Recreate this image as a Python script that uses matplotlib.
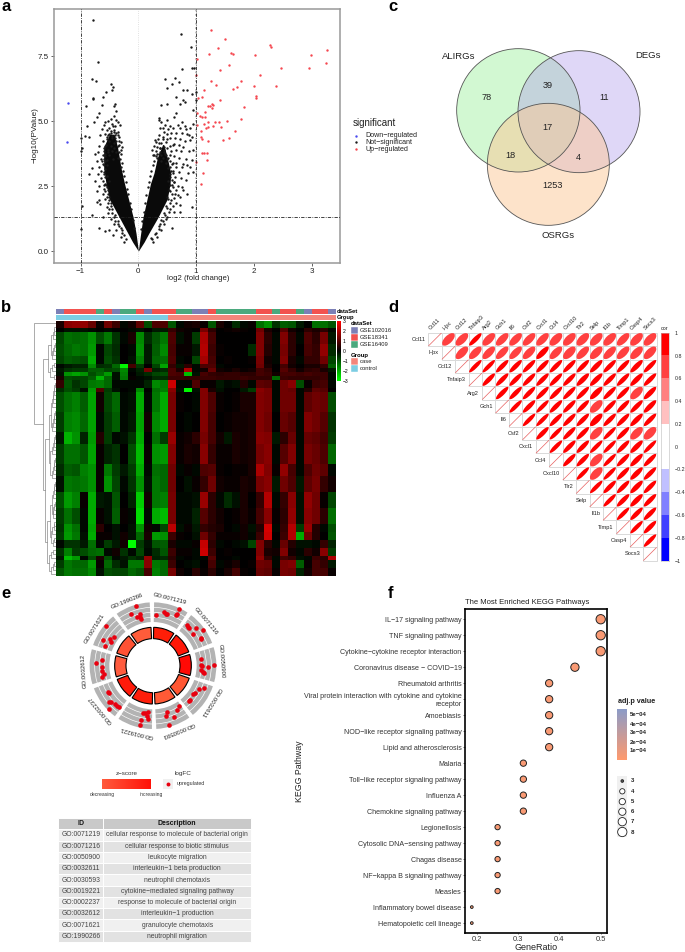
import matplotlib
matplotlib.use('Agg')
import matplotlib.pyplot as plt
import numpy as np
from matplotlib.colors import LinearSegmentedColormap, ListedColormap, BoundaryNorm
from matplotlib.patches import Circle, Ellipse, Rectangle, Wedge

plt.rcParams['font.family'] = ['Liberation Sans', 'DejaVu Sans']
plt.rcParams['axes.unicode_minus'] = True

W, H = 685, 952

# a: volcano
up_points = [(1.26,8.5),(1.5,8.15),(1.385,7.82),(1.22,7.6),(1.6,7.63),(1.645,7.58),(2.02,7.53),(2.285,7.95),(2.29,7.86),
    (2.99,7.55),(3.27,7.74),(3.25,7.23),(2.955,7.03),(2.47,7.05),(2.11,6.79),(1.02,7.38),(1.57,7.15),(1.41,6.99),(1.0,6.76),
    (1.25,6.56),(1.34,6.4),(1.78,6.54),(1.7,6.32),(1.64,6.24),(2.01,6.36),(2.39,6.37),(1.14,6.22),(2.04,5.96),(2.04,5.88),
    (1.41,5.82),(1.1,5.94),(1.04,5.91),(1.275,5.68),(1.3,5.64),(1.2,5.59),(1.24,5.58),(1.28,5.5),(1.15,5.35),(1.835,5.53),
    (1.01,5.31),(1.07,5.2),(1.1,5.15),(1.16,5.18),(1.77,5.1),(1.535,5.0),(1.21,4.96),(1.33,4.96),(1.39,4.96),(1.14,4.9),
    (1.02,4.86),(1.29,4.81),(1.21,4.79),(1.43,4.78),(1.17,4.73),(1.09,4.63),(1.67,4.64),(1.08,4.41),(1.11,4.32),(1.575,4.35),
    (1.46,4.27),(1.21,4.23),(1.1,3.76),(1.14,3.76),(1.18,3.77),(1.18,3.49),(1.0,3.41),(1.125,2.99),(1.09,2.6)]
down_points = [(-1.22,5.7),(-1.235,4.2)]
ns_points = [(-.79,8.88),(-.7,7.28),(-.81,6.63),(-.73,6.56),(-.48,6.45),(-.44,6.32),(-.46,6.19),(-.56,6.13),(-.62,5.94),
    (-.78,5.91),(-.78,5.85),(-.91,5.58),(-.63,5.62),(-.68,5.3),(-.4,5.68),(-.43,5.58),(-.39,5.4),(-.89,4.81),(-.77,4.97),
    (-.72,5.17),(-.93,4.42),(-.99,4.37),(-.85,4.4),(-.98,3.95),(-.99,3.86),(-.85,2.96),(-.81,3.18),(-.98,1.73),(-.81,1.38),
    (-1.0,.86),(-.72,1.9),(-.68,.87),(-.58,.78),(-.51,.81),(-.44,.63),(-.61,1.32),(-.66,1.83),
    (.73,8.37),(.91,7.87),(.92,7.05),(.96,7.05),(.76,7.0),(.46,6.62),(.63,6.65),(.49,6.26),(.59,6.45),(.71,6.5),(.77,6.22),
    (.84,6.19),(.92,6.06),(.99,6.13),(.66,5.94),(.77,5.8),(.72,5.68),(.81,5.74),(.99,5.8),(.39,5.62),(.49,5.68),(.94,5.45),
    (.66,5.3),(.61,5.17),(.36,5.14),(.49,5.06),(.75,4.97),(.81,4.81),(.94,4.91),(.43,4.72),(.55,4.81),(.66,4.53),(.87,4.46),
    (.89,4.27),(.95,3.88),(.78,4.01),(.61,4.14),(.43,4.33),(.29,4.27),(.375,3.95),(.89,3.24),(.94,3.05),(.78,3.37),(.66,3.24),
    (.75,2.47),(.84,2.2),(.92,1.68),(.72,1.77),(.72,1.5),(.58,.87),(.61,2.67),(.69,2.15),
    (-.42,5.2),(-.47,5.1),(-.38,5.05),(-.52,5.0),(-.57,4.95),(-.6,4.85),(-.45,4.9),(-.35,4.95),(-.32,4.85),(-.4,4.8),(-.5,4.75),
    (-.63,4.7),(-.55,4.65),(-.42,4.65),(-.36,4.6),(-.47,4.55),(-.58,4.5),(-.66,4.45),(-.52,4.45),(-.4,4.45),(-.33,4.4),(-.45,4.35),
    (-.55,4.3),(-.62,4.25),(-.5,4.25),(-.38,4.25),(-.3,4.2),(-.43,4.15),(-.56,4.1),(-.68,4.05),(-.48,4.05),(-.35,4.05),(-.28,4.0),
    (-.42,3.95),(-.53,3.9),(-.6,3.85),(-.7,3.8),(-.75,3.75),(-.46,3.85),(-.38,3.8),(-.3,3.75),(-.5,3.7),(-.58,3.65),(-.65,3.55),
    (-.72,3.45),(-.55,3.5),(-.44,3.55),(-.35,3.6),(-.62,3.35),(-.68,3.25),(-.55,3.3),(-.6,3.05),(-.7,2.95),(-.54,2.9),(-.65,2.8),
    (-.75,2.7),(-.58,2.6),(-.5,2.7),(-.68,2.5),(-.6,2.4),(-.72,2.3),(-.52,2.35),(-.62,2.2),(-.5,2.1),(-.58,2.0),(-.68,1.95),
    (-.47,1.85),(-.55,1.7),(-.45,1.6),(-.52,1.45),(-.4,1.4),(-.47,1.25),(-.36,1.15),(-.42,1.05),(-.33,.95),(-.38,.8),(-.28,.7),
    (-.3,.55),(-.22,.45),(-.25,.35),
    (.36,5.05),(.4,4.95),(.46,4.85),(.38,4.75),(.52,4.7),(.6,4.75),(.68,4.85),(.72,4.75),(.83,4.7),(.9,4.75),(.44,4.6),(.5,4.5),
    (.57,4.55),(.75,4.55),(.85,4.5),(.92,4.4),(.36,4.45),(.42,4.4),(.55,4.35),(.64,4.35),(.72,4.3),(.8,4.25),(.3,4.2),(.36,4.15),
    (.47,4.2),(.6,4.1),(.7,4.1),(.27,4.05),(.33,4.0),(.44,4.0),(.5,3.95),(.66,3.9),(.74,3.85),(.88,3.85),(.3,3.85),(.38,3.8),
    (.46,3.75),(.55,3.7),(.62,3.65),(.27,3.7),(.33,3.6),(.42,3.6),(.5,3.55),(.7,3.6),(.82,3.55),(.92,3.5),(.4,3.45),(.47,3.4),
    (.58,3.35),(.66,3.4),(.75,3.25),(.84,3.3),(.52,3.2),(.6,3.1),(.7,3.05),(.86,3.0),(.55,2.95),(.63,2.85),(.73,2.8),(.82,2.75),
    (.52,2.7),(.58,2.55),(.68,2.5),(.78,2.35),(.55,2.3),(.64,2.2),(.72,2.1),(.5,2.1),(.56,1.95),(.65,1.85),(.48,1.75),(.55,1.6),
    (.62,1.5),(.44,1.45),(.5,1.3),(.4,1.2),(.45,1.05),(.36,.95),(.4,.8),(.3,.7),(.33,.55),(.24,.45),(.26,.35),
    # thicker fringe beside the solid part
    (-.57,4.05),(-.6,3.95),(-.52,3.8),(-.58,3.75),(-.62,3.7),(-.6,3.55),(-.57,3.45),(-.63,3.45),(-.6,3.3),(-.58,3.15),(-.64,3.1),
    (-.6,2.95),(-.57,2.85),(-.62,2.7),(-.56,2.55),(-.6,2.55),(-.55,2.45),(-.57,2.3),(-.52,2.2),(-.55,2.1),(-.5,1.95),(-.53,1.85),
    (-.48,1.75),(-.5,1.6),(-.45,1.45),(-.42,1.3),(-.4,1.15),(-.35,1.05),(-.3,.9),(-.28,.8),(-.24,.62),
    (-.36,4.45),(-.34,4.25),(-.33,4.1),(-.3,3.9),(-.33,3.8),(-.31,3.55),(-.28,3.4),(-.3,3.25),(-.26,3.1),(-.25,2.9),(-.22,2.65),
    (-.2,2.4),(-.18,2.2),(-.15,1.85),(-.13,1.6),(-.09,1.2),(-.07,.9),
    (-.42,4.6),(-.48,4.62),(-.44,4.8),(-.38,4.55),(-.5,4.5),(-.46,4.42),(-.54,4.4),(-.4,4.35),
    (.24,3.9),(.25,3.7),(.3,3.65),(.35,3.75),(.4,3.7),(.44,3.8),(.48,3.7),(.52,3.6),(.55,3.45),(.6,3.4),(.54,3.25),(.56,3.1),
    (.6,3.0),(.54,2.85),(.58,2.75),(.62,2.65),(.55,2.55),(.6,2.45),(.66,2.35),(.53,2.35),(.58,2.2),(.62,2.05),(.51,2.0),(.54,1.85),
    (.6,1.75),(.5,1.65),(.53,1.5),(.46,1.4),(.47,1.25),(.42,1.15),(.38,1.05),(.35,.85),(.28,.65),(.22,.5),
    (.27,3.45),(.25,3.3),(.22,3.1),(.21,2.9),(.19,2.65),(.17,2.45),(.14,2.15),(.12,1.85),(.09,1.5),(.07,1.15),(.05,.85),
    (.4,4.15),(.5,4.3),(.34,4.3),(.55,4.05),(.45,3.9),(.37,3.95),(.56,3.85),(.33,3.75)]
# envelope of the part of the V that is solid black
core_left_y = [0, .35, .68, 1.3, 2, 2.6, 3.2, 4.0, 4.5]
core_left_outer = [0, -.1, -.18, -.33, -.5, -.56, -.6, -.6, -.5]
core_left_inner = [0, -.02, -.04, -.09, -.17, -.24, -.3, -.36, -.42]
core_right_y = [0, .35, .68, 1.3, 2, 2.6, 3.0, 3.6, 4.1]
core_right_inner = [0, .02, .04, .08, .15, .21, .27, .33, .42]
core_right_outer = [0, .1, .18, .34, .5, .55, .56, .5, .44]
significant_labels = ['Down−regulated', 'Not−significant', 'Up−regulated']

# b: heatmap, values in tenths, each row repeated heat_repeat times
heat_rows = [
    [3,16,17,17,12,1,13,7,-1,2,11,-9,9,9,-10,-1,2,3,1,-10,3,0,-5,-1,1,-13,-17,-6,-11,-10,-3,0,-13,-13,-10],
    [0,-2,-2,-2,-1,0,-1,0,0,-1,-2,0,-3,-3,6,2,1,0,14,5,0,1,2,1,0,13,3,0,10,2,0,5,3,5,-1],
    [-8,-13,-12,-13,-17,-9,-14,-6,-1,3,-16,-5,-10,-14,9,-2,1,-7,20,8,0,0,0,0,0,15,5,-1,15,5,-1,9,5,14,-3],
    [-9,-12,-14,-13,-18,-1,-8,-5,0,-1,-17,-3,-11,-16,8,1,1,-3,21,7,1,0,0,0,-5,15,4,-1,14,5,0,8,6,17,-5],
    [-8,-11,-10,-9,-20,-1,-9,-6,0,-2,-15,-3,-12,-13,9,-1,0,-8,19,8,0,1,0,0,1,14,2,-1,15,3,-1,6,6,13,-8],
    [-1,-3,-4,-4,-16,-5,-6,-12,-29,8,-7,0,-8,-19,6,-3,5,-1,9,9,-1,0,0,0,0,13,3,0,8,2,0,3,3,6,-11],
    [-3,-6,-7,-7,-11,-11,-8,-9,-16,-1,-4,14,-4,-5,9,3,20,-1,2,12,2,1,3,1,2,8,6,0,10,6,2,5,6,3,-3],
    [-2,-17,-19,-17,-9,-12,-18,-2,-15,0,-3,-5,-8,-9,9,8,-22,-2,8,6,5,6,6,5,5,8,7,2,8,8,7,8,7,7,-1],
    [3,-9,-8,-8,-11,-21,-12,-2,-14,1,-1,-2,-5,-5,7,7,6,6,7,7,6,6,6,7,6,6,6,-12,7,6,6,6,6,7,-1],
    [6,-10,-6,-8,-14,-15,-12,-1,-1,-1,-1,-4,-16,-14,24,-1,-1,9,1,1,-3,-1,-2,4,-1,11,10,-1,13,16,-9,1,7,8,-1],
    [-5,-9,-7,-2,-18,9,-7,-2,0,-1,-16,0,-13,-15,16,-2,-29,-2,15,3,-2,0,0,-3,-7,16,14,-1,13,12,-1,4,11,10,0],
    [-9,-13,-15,-11,-19,2,-8,-12,-1,-2,-20,-1,-14,-20,14,1,0,-1,15,9,1,0,1,3,3,15,14,-1,13,13,-1,11,13,12,-9],
    [-7,-15,-16,-12,-19,-1,-7,-11,-1,-3,-19,2,-16,-20,14,0,-1,0,15,8,0,1,2,2,3,15,13,0,12,10,-1,15,13,10,-6],
    [-3,-21,-17,-4,-18,4,-7,-1,-2,-6,-20,0,-13,-7,18,1,2,5,14,8,2,-3,3,2,3,16,15,-3,5,12,-1,12,11,8,-7],
    [-7,-13,-13,-10,-19,1,-4,-6,0,-9,-22,1,-17,-18,15,1,3,2,16,6,1,1,3,2,3,14,16,-1,10,15,-1,14,12,9,-12],
    [-5,-11,-10,-15,-17,1,-14,-7,-3,-7,-20,-1,-13,-12,13,-1,1,-1,9,10,1,0,1,1,3,20,15,1,17,8,-1,9,13,11,-1],
    [-2,-14,-13,-14,-17,1,-17,-8,-1,-6,-17,-2,-14,-12,13,0,-2,1,6,13,2,1,1,3,2,14,16,-3,13,9,-3,11,14,6,2],
    [-9,-18,-15,1,-20,-3,-2,-10,0,-4,-24,2,-14,-15,14,-1,-1,-2,18,5,-1,-5,-2,3,0,6,21,-1,6,16,-2,17,13,1,-8],
    [-7,-13,-9,-1,-20,1,-2,-11,1,-1,-26,-1,-20,-22,14,-1,-1,-4,10,5,2,0,1,3,1,8,16,1,5,17,-2,16,13,5,-13],
    [-6,-17,-13,-1,-19,5,0,-2,0,-2,-17,2,-1,-8,22,-2,1,-3,6,4,3,0,-1,2,-2,4,25,-1,6,21,-7,18,4,-1,-9],
    [-7,-18,-14,-2,-20,1,1,-2,2,-2,-12,3,-18,-17,7,1,0,-2,13,6,1,1,1,2,-1,7,24,0,7,21,-20,13,4,0,-10],
    [-1,-6,-6,-3,-13,-1,-7,-3,2,-30,-7,-2,-10,-11,3,-1,-1,1,23,5,-1,0,-1,-2,-8,15,5,-1,12,4,-2,-2,-1,6,-4],
    [-6,-15,-7,-9,-12,-13,-1,2,-6,-1,-8,-1,-5,-10,7,1,1,-1,24,7,0,1,0,0,0,15,3,2,15,2,-1,5,2,16,-7],
    [-3,-22,-18,-1,-9,3,-9,-1,-3,-6,-4,17,-4,-5,5,-1,0,-1,-1,10,0,0,-1,0,0,17,6,-1,8,6,-2,-1,7,5,20],
    [-7,-14,-12,-12,-18,1,-12,-5,-2,-14,-14,16,-14,-12,7,0,-1,-2,0,8,-1,1,3,0,1,13,12,-1,14,15,-11,1,8,6,-3],
    [-10,-14,-13,-13,-16,-2,-9,-8,-8,-12,-10,8,-15,-12,14,2,0,5,1,5,0,3,8,1,0,12,11,1,14,13,-4,2,8,8,1],
]
heat_repeat = [2,1,3,3,2,1,1,1,1,2,1,5,5,3,5,3,4,4,4,2,2,2,2,1,2,2]
# 0 GSE102016, 1 GSE18341, 2 GSE16409
dataset_col = [0,1,1,1,1,2,1,0,2,2,1,0,1,1,1,2,2,0,0,1,2,2,2,2,2,1,1,2,1,1,2,0,1,1,0]
# 0 case, 1 control
group_col = [1]*14 + [0]*21
dataset_names = ['GSE102016', 'GSE18341', 'GSE16409']
group_names = ['case', 'control']

# c: venn
venn_counts = [78, 39, 11, 17, 18, 4, 1253]
venn_sets = ['ALIRGs', 'DEGs', 'OSRGs']

# d: correlation
genes = ['Ccl11','Hpx','Ccl12','Tnfaip3','Arg2','Gch1','Il6','Csf2','Cxcl1','Ccl4','Cxcl10','Tlr2','Selp','Il1b','Timp1','Casp4','Socs3']
corr_rows = [
    [.72,.72,.9,.72,.75,.75,.75,.75,.7,.7,.7,.7,.7,.75,.7,.7],
    [.72,.75,.75,.78,.78,.75,.85,.75,.7,.75,.72,.75,.75,.72,.72],
    [.92,.92,.9,.9,.9,.9,.9,.9,.9,.88,.9,.9,.88,.9],
    [.9,.9,.9,.9,.9,.9,.9,.88,.88,.9,.9,.88,.9],
    [.9,.9,.9,.9,.9,.9,.9,.85,.9,.9,.72,.88],
    [.92,.9,.92,.9,.9,.9,.72,.9,.9,.9,.88],
    [.92,.92,.9,.9,.9,.82,.9,.9,.88,.9],
    [.9,.92,.9,.9,.72,.92,.9,.72,.7],
    [.92,.9,.9,.92,.92,.9,.88,.92],
    [.9,.9,.72,.92,.9,.88,.9],
    [.92,.72,.92,.9,.88,.9],
    [.92,.9,.9,.88,.9],
    [.92,.9,.88,.9],
    [.92,.9,.9],
    [.92,.9],
    [.92],
]
cor_levels = [-1,-.8,-.6,-.4,-.2,0,.2,.4,.6,.8,1]
cor_colors = ['#0000FF','#4040FF','#8080FF','#C0C0FF','#FFFFFF','#FFFFFF','#FFC0C0','#FF8080','#FF4040','#FF0000']

# e: GO circle
go_ids = ['GO:0071219','GO:0071216','GO:0050900','GO:0032611','GO:0030593','GO:0019221','GO:0002237','GO:0032612','GO:0071621','GO:1990266']
go_desc = ['cellular response to molecule of bacterial origin','cellular response to biotic stimulus','leukocyte migration',
    'interleukin−1 beta production','neutrophil chemotaxis','cytokine−mediated signaling pathway',
    'response to molecule of bacterial origin','interleukin−1 production','granulocyte chemotaxis','neutrophil migration']
go_zscore = ['#FF1E08','#FF1808','#FF0A05','#FF5632','#FF5A36','#FF1E0A','#FF1A0A','#FF5C3E','#FF5234','#FF5C3A']
go_theta = [3,12,14,15,24,25,25, 39.6,42.7,43.7,48.5,54.4,51.7,59.7,61.4, 82,89.6,90.4,91,89.7,95.6,97.5,97.8,
    113.5,117,123.6,124.8,133,134.5, 147,151.7,163.5,165.5,158,164.8, 191.5,189,186.5,187,185.7,192.5,192.6,
    239.8,237.8,230,229,224.5,221.7,219.4,225.2, 276,272.7,268,263.7,260,257.5, 310,306,301.7,298.9,297,292.5,
    344.4,336.8,341.7,346,345.7,344.7]
go_logfc = [153,164,159,159,166,170,186, 158,156,158,172,186,152,167,165, 144,144,148,166,183,145,152,155,
    168,156,150,147,152,153, 143,152,144,156,166,183, 145,145,141,151,161,166,183,
    155,156,171,167,163,161,161,186, 154,170,152,154,149,157, 184,145,150,145,167,157,
    186,168,153,159,145,151]

# f: KEGG dotplot
pathways = ['IL−17 signaling pathway','TNF signaling pathway','Cytokine−cytokine receptor interaction','Coronavirus disease − COVID−19',
    'Rheumatoid arthritis','Viral protein interaction with cytokine and cytokine\nreceptor','Amoebiasis','NOD−like receptor signaling pathway',
    'Lipid and atherosclerosis','Malaria','Toll−like receptor signaling pathway','Influenza A','Chemokine signaling pathway','Legionellosis',
    'Cytosolic DNA−sensing pathway','Chagas disease','NF−kappa B signaling pathway','Measles','Inflammatory bowel disease','Hematopoietic cell lineage']
gene_ratio = [.5,.5,.5,.4375,.375,.375,.375,.375,.375,.3125,.3125,.3125,.3125,.25,.25,.25,.25,.25,.1875,.1875]
gene_count = [8,8,8,7,6,6,6,6,6,5,5,5,5,4,4,4,4,4,3,3]
size_levels = [3,4,5,6,7,8]
padj_ticks = ['5e−04','4e−04','3e−04','2e−04','1e−04']


def px_axes(l, t, r, b):
    return fig.add_axes([l/W, 1-b/H, (r-l)/W, (b-t)/H])

def ftext(x, y, s, **kw):
    kw.setdefault('va', 'center')
    fig.text(x/W, 1-y/H, s, **kw)

def dot_area(px):
    return (px*0.72)**2


fig = plt.figure(figsize=(W/100, H/100), dpi=100, facecolor='white')

for letter, lx, ly in [('a',1,6.5),('c',388,6.5),('b',1,307),('d',388,307),('e',1,594),('f',388,593.5)]:
    ftext(lx, ly, letter, fontsize=12, fontweight='bold', ha='left')

############################################################################################
# a
ax = px_axes(54, 9, 340, 263)
ns = np.array(ns_points)
up = np.array(up_points)
down = np.array(down_points)
ax.fill_betweenx(core_left_y, core_left_outer, core_left_inner, color='#0A0A0A', lw=0, zorder=2)
ax.fill_betweenx(core_right_y, core_right_inner, core_right_outer, color='#0A0A0A', lw=0, zorder=2)
ax.scatter(ns[:, 0], ns[:, 1], s=3, color='#1A1A1A', lw=0, zorder=2)
ax.scatter(up[:, 0], up[:, 1], s=3, color='#F5474F', lw=0, zorder=3)
ax.scatter(down[:, 0], down[:, 1], s=3, color='#4A4AF0', lw=0, zorder=3)
ax.axvline(0, color='#D8D8D8', lw=.6, ls=':', zorder=1)
ax.axvline(1, color='#BBBBBB', lw=1.2, ls=':', zorder=1)
for xv in [-1, 1]:
    ax.axvline(xv, color='#222222', lw=.6, ls=(0, (4, 1.5, 1, 1.5)), zorder=4)
ax.axhline(1.3, color='#222222', lw=.6, ls=(0, (4, 1.5, 1, 1.5)), zorder=4)
ax.set_xlim(-1.46, 3.49)
ax.set_ylim(-0.46, 9.32)
ax.set_xticks([-1, 0, 1, 2, 3])
ax.set_xticklabels(['−1', '0', '1', '2', '3'])
ax.set_yticks([0, 2.5, 5, 7.5])
ax.set_yticklabels(['0.0', '2.5', '5.0', '7.5'])
ax.tick_params(labelsize=5.8, length=2, width=.5, pad=1.5, colors='#222222')
for sp in ax.spines.values():
    sp.set_color('#999999')
    sp.set_linewidth(1.1)
ftext(198, 278.5, 'log2 (fold change)', fontsize=5.6, ha='center', color='#222222')
ftext(35, 135, '−log10(PValue)', fontsize=5.9, ha='center', rotation=90, color='#222222')

ftext(353, 123.5, 'significant', fontsize=7, ha='left', color='#222222')
leg = px_axes(350, 132, 420, 153)
leg.set_xlim(350, 420)
leg.set_ylim(153, 132)
leg.axis('off')
for name, col, ly in zip(significant_labels, ['#4A4AF0', '#1A1A1A', '#F5474F'], [135.7, 142.4, 149.3]):
    leg.scatter([356], [ly], s=3, color=col, lw=0)
    leg.text(365, ly, name, fontsize=5.1, va='center', color='#222222')

############################################################################################
# b
heat = np.repeat(np.array(heat_rows), heat_repeat, axis=0) / 10
heat_cmap = LinearSegmentedColormap.from_list('gkr', ['#00FF00', '#000000', '#FF0000'])
ax = px_axes(55.7, 321, 335, 576)
ax.imshow(heat, aspect='auto', cmap=heat_cmap, vmin=-3, vmax=3, interpolation='nearest')
ax.axis('off')

ds_colors = ['#7C80B6', '#F2524F', '#4BA97E']
gr_colors = ['#F3857B', '#7CCDE3']
ax = px_axes(55.7, 309.3, 335, 314)
ax.imshow([dataset_col], aspect='auto', cmap=ListedColormap(ds_colors), vmin=0, vmax=2, interpolation='nearest')
ax.axis('off')
ax = px_axes(55.7, 314.8, 335, 319.7)
ax.imshow([group_col], aspect='auto', cmap=ListedColormap(gr_colors), vmin=0, vmax=1, interpolation='nearest')
ax.axis('off')
ftext(337, 311.7, 'dataSet', fontsize=4.2, fontweight='bold', ha='left')
ftext(337, 317.3, 'Group', fontsize=4.2, fontweight='bold', ha='left')

# row dendrogram: [height, upper child, lower child], None is a leaf
def ladder(heights):
    node = None
    for h in heights:
        node = [h, node, None]
    return node

tree_top = [.35, [.22, ladder([.06,.1,.14]), ladder([.05,.09,.13,.17])], [.28, ladder([.08,.18]), ladder([.1])]]
tree_mid = [.3, [.2, ladder([.04,.06,.08,.11,.13,.16]), ladder([.05,.07,.09,.12,.15])],
            [.24, ladder([.05,.06,.09,.12,.17]), ladder([.04,.08,.1,.13,.18])]]
tree_low = [.26, [.18, ladder([.05,.07,.1,.13]), ladder([.04,.08,.11,.14])], [.2, ladder([.06,.09,.15]), ladder([.07,.12])]]
tree_bot = [.3, ladder([.12,.2]), ladder([.08,.14,.22])]
tree = [1.0, None, [.6, tree_top, [.5, tree_mid, [.38, tree_low, tree_bot]]]]

dax = px_axes(34, 321, 55.7, 576)
dax.set_xlim(1.0, 0)
dax.set_ylim(64, 0)
dax.axis('off')
leaf_next = [0]

def draw_tree(node):
    if node is None:
        y = leaf_next[0] + .5
        leaf_next[0] += 1
        return y, 0
    h, upper, lower = node
    y1, h1 = draw_tree(upper)
    y2, h2 = draw_tree(lower)
    dax.plot([h1, h, h, h2], [y1, y1, y2, y2], color='#8A8A8A', lw=.5, solid_joinstyle='miter')
    return (y1 + y2) / 2, h

draw_tree(tree)

cax = px_axes(337.3, 321, 341.3, 381)
cax.imshow(np.linspace(3, -3, 120).reshape(-1, 1), aspect='auto', cmap=heat_cmap, vmin=-3, vmax=3, extent=[0, 1, -3, 3])
cax.set_xticks([])
cax.yaxis.tick_right()
cax.set_yticks([-3, -2, -1, 0, 1, 2, 3])
cax.set_yticklabels(['−3', '−2', '−1', '0', '1', '2', '3'])
cax.tick_params(labelsize=3.6, length=0, pad=1)
for sp in cax.spines.values():
    sp.set_visible(False)

ftext(351, 323.3, 'dataSet', fontsize=4.3, fontweight='bold', ha='left')
ftext(351, 355, 'Group', fontsize=4.3, fontweight='bold', ha='left')
lax = px_axes(351, 326, 390, 373)
lax.set_xlim(351, 390)
lax.set_ylim(373, 326)
lax.axis('off')
for i, (name, col) in enumerate(zip(dataset_names, ds_colors)):
    lax.add_patch(Rectangle((351.3, 326.7+7*i), 7, 7, fc=col, ec='white', lw=.3))
    lax.text(360, 326.7+7*i+3.5, name, fontsize=4.2, va='center', color='#222222')
for i, (name, col) in enumerate(zip(group_names, gr_colors)):
    lax.add_patch(Rectangle((351.3, 358.3+7*i), 7, 7, fc=col, ec='white', lw=.3))
    lax.text(360, 358.3+7*i+3.5, name, fontsize=4.2, va='center', color='#222222')

############################################################################################
# c, axis units are 1/3 px
ax = px_axes(430, 0, 685, 240)
ax.set_xlim(0, 765)
ax.set_ylim(720, 0)
ax.axis('off')
circles = [((265, 331), 185, '#90EE90', .4), ((447, 335), 183, '#B19CEB', .4), ((355, 493), 183, '#FDC896', .5)]
for cen, rad, col, alpha in circles:
    ax.add_patch(Circle(cen, rad, fc=col, alpha=alpha, ec='none'))
for cen, rad, col, alpha in circles:
    ax.add_patch(Circle(cen, rad, fc='none', ec='#555555', lw=.6))
count_xy = [(171,291),(352,258),(523,291),(352,384),(240,468),(445,474),(368,555)]
for (tx, ty), n in zip(count_xy, venn_counts):
    ax.text(tx, ty, str(n), fontsize=6.6, ha='center', va='center', color='#222222')
for (tx, ty), s in zip([(85,169),(653,165),(384,708)], venn_sets):
    ax.text(tx, ty, s, fontsize=6.8, ha='center', va='center', color='#222222')

############################################################################################
# d
n_g = len(genes)
cor_cmap = ListedColormap(cor_colors)
cor_norm = BoundaryNorm(cor_levels, cor_cmap.N)
ax = px_axes(428.3, 332.7, 656.7, 560.7)
ax.set_xlim(0, n_g)
ax.set_ylim(0, n_g)
ax.axis('off')
for i in range(n_g):
    yc = n_g - i - .5
    for j in range(i, n_g):
        ax.add_patch(Rectangle((j, yc-.5), 1, 1, fc='white', ec='#D9D9D9', lw=.7, clip_on=False, zorder=1))
    ax.plot([i+.03, i+.97], [yc-.47, yc+.47], color='#E86060', lw=.5, zorder=2)
    ax.text(i-.2, yc, genes[i], fontsize=4.1, ha='right', va='center', color='#222222')
    ax.text(i+.25, n_g+.12, genes[i], fontsize=4.1, rotation=45, ha='left', va='bottom', rotation_mode='anchor', color='#222222', clip_on=False)
    if i < n_g - 1:
        for j, r in enumerate(corr_rows[i], start=i+1):
            ax.add_patch(Ellipse((j+.5, yc), 1.3*np.sqrt((1+r)/2), 1.55*np.sqrt((1-r)/2), angle=45,
                                 fc=cor_cmap(cor_norm(r)), ec='none', zorder=2))

cax = px_axes(660.7, 332.7, 669.3, 560.7)
cax.pcolormesh([0, 1], cor_levels, np.arange(10).reshape(-1, 1), cmap=cor_cmap, vmin=0, vmax=9)
cax.set_xticks([])
cax.yaxis.tick_right()
cax.set_yticks(np.arange(-1, 1.01, .2))
cax.set_yticklabels(['−1', '−0.8', '−0.6', '−0.4', '−0.2', '0', '0.2', '0.4', '0.6', '0.8', '1'])
cax.tick_params(labelsize=3.8, length=0, pad=4, colors='#222222')
for sp in cax.spines.values():
    sp.set_color('#BBBBBB')
    sp.set_linewidth(.4)
ftext(665, 328.3, 'cor', fontsize=3.9, ha='center', color='#222222')

############################################################################################
# e, axis units are 1/3 px
ax = px_axes(0, 585, 280, 795)
ax.set_xlim(0, 840)
ax.set_ylim(630, 0)
ax.axis('off')
cx, cy = 459, 242
band_r = [(131, 144), (146, 159), (161, 174), (176, 190)]
for k in range(10):
    t1, t2 = 36*k + 1 - 90, 36*k + 33 - 90
    ax.add_patch(Wedge((cx, cy), 115, t1, t2, width=34, fc=go_zscore[k], ec='black', lw=.8))
    for r0, r1 in band_r:
        ax.add_patch(Wedge((cx, cy), r1, t1, t2, width=r1-r0, fc='#B3B3B3', ec='none'))
    mid = np.deg2rad(36*k + 14)
    ax.text(cx + 207*np.sin(mid), cy - 207*np.cos(mid), go_ids[k], fontsize=4.3, ha='center', va='center',
            rotation=-(36*k + 14), rotation_mode='anchor', color='#222222')
th = np.deg2rad(go_theta)
ax.scatter(cx + np.array(go_logfc)*np.sin(th), cy - np.array(go_logfc)*np.cos(th), s=11, color='#E8000F', lw=0, zorder=5)

ftext(127, 773.5, 'z−score', fontsize=4.5, ha='center', color='#333333')
ftext(183, 773.5, 'logFC', fontsize=4.6, ha='center', color='#333333')
gax = px_axes(102, 779, 151, 789)
gax.imshow(np.linspace(0, 1, 100).reshape(1, -1), aspect='auto',
           cmap=LinearSegmentedColormap.from_list('zs', ['#FF5A3C', '#FF1208']))
gax.axis('off')
ftext(102, 794.3, 'decreasing', fontsize=3.6, ha='center', color='#333333')
ftext(151, 794.3, 'increasing', fontsize=3.6, ha='center', color='#333333')
kax = px_axes(163, 779, 173, 789)
kax.set_facecolor('#F0F0F0')
kax.scatter([.5], [.5], s=8, color='#E8000F', lw=0)
kax.set_xlim(0, 1)
kax.set_ylim(0, 1)
kax.set_xticks([])
kax.set_yticks([])
for sp in kax.spines.values():
    sp.set_visible(False)
ftext(177, 784, 'upregulated', fontsize=3.8, ha='left', color='#333333')

# go table
tax = px_axes(58.3, 818, 251.3, 942)
tax.axis('off')
tb = tax.table(cellText=[[a, b] for a, b in zip(go_ids, go_desc)], colLabels=['ID', 'Description'],
               colWidths=[.232, .768], cellLoc='center', bbox=[0, 0, 1, 1])
tb.auto_set_font_size(False)
for (row, col), cell in tb.get_celld().items():
    cell.set_edgecolor('white')
    cell.set_linewidth(.7)
    cell.set_text_props(fontsize=4.85, color='#444444')
    if row == 0:
        cell.set_facecolor('#C9C9C9')
        cell.set_text_props(fontsize=5.0, fontweight='bold', color='#111111')
    else:
        cell.set_facecolor('#F0F0F0' if row % 2 else '#E2E2E2')

############################################################################################
# f
size_px = [2.7, 5.3, 6.3, 7.3, 8.3, 9.3]
ax = px_axes(465, 609, 607.3, 933.3)
ypos = np.arange(len(pathways))
sizes = [dot_area(size_px[size_levels.index(c)]) for c in gene_count]
ax.scatter(gene_ratio, ypos, s=sizes, fc='#F99A74', ec='#222222', lw=.7, zorder=3)
ax.set_xlim(.171, .516)
ax.set_ylim(19.64, -.64)
ax.set_yticks(ypos)
ax.set_yticklabels(pathways, linespacing=1.25)
ax.set_xticks([.2, .3, .4, .5])
ax.set_xticklabels(['0.2', '0.3', '0.4', '0.5'])
ax.tick_params(axis='y', labelsize=5.1, length=1.5, width=.5, pad=1, colors='#333333')
ax.tick_params(axis='x', labelsize=5.4, length=1, width=.5, pad=.8, colors='#333333')
for sp in ax.spines.values():
    sp.set_linewidth(1.2)
ftext(465.3, 602, 'The Most Enriched KEGG Pathways', fontsize=5.5, ha='left', color='#222222')
ftext(300, 771.5, 'KEGG Pathway', fontsize=6.3, rotation=90, ha='center', color='#222222')
ftext(536, 947.5, 'GeneRatio', fontsize=6.5, ha='center', color='#222222')
ftext(618, 701.5, 'adj.p value', fontsize=5.2, fontweight='bold', ha='left', color='#222222')

gax = px_axes(617.3, 709, 627.3, 760)
gax.imshow(np.linspace(0, 1, 100).reshape(-1, 1), aspect='auto',
           cmap=LinearSegmentedColormap.from_list('pv', ['#8C9CC8', '#FF9A6E']))
gax.axis('off')
for lab, ly in zip(padj_ticks, [715, 724, 733, 742, 751]):
    ftext(630, ly, lab, fontsize=4.3, fontweight='bold', ha='left', color='#222222')

kax = px_axes(617.3, 776, 627.3, 837)
kax.set_facecolor('#F0F0F0')
kax.set_xlim(0, 1)
kax.set_ylim(837, 776)
kax.set_xticks([])
kax.set_yticks([])
for sp in kax.spines.values():
    sp.set_visible(False)
key_y = [781, 791.3, 801.6, 811.7, 821.7, 832]
kax.scatter([.5]*6, key_y, s=[dot_area(p) for p in size_px], fc=['#555555']+['white']*5, ec='#222222', lw=.6, clip_on=False)
for lv, ly in zip(size_levels, key_y):
    ftext(631, ly, str(lv), fontsize=4.3, fontweight='bold', ha='left', color='#222222')

fig.savefig('out.png', dpi=100)
